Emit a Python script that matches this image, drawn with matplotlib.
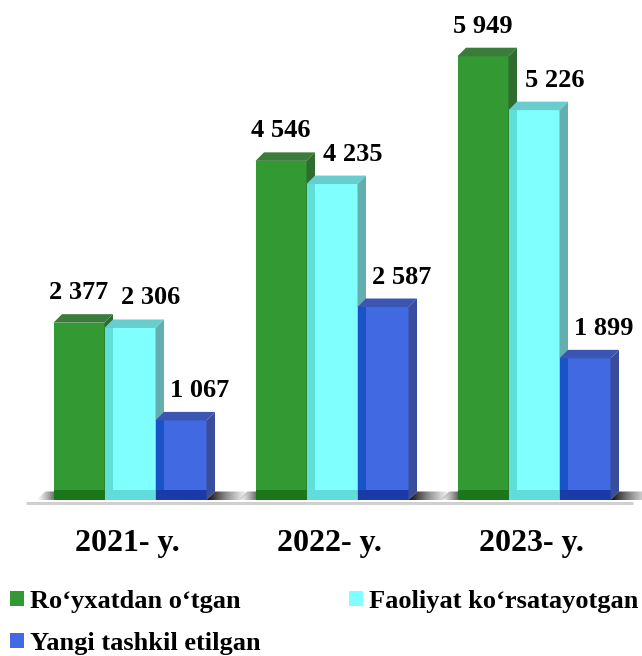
import numpy as np
import matplotlib
matplotlib.use('Agg')
import matplotlib.pyplot as plt
from matplotlib.patches import Polygon, Patch, Rectangle

# ---------------- data ----------------
years = ['2021- y.', '2022- y.', '2023- y.']
registered = [2377, 4546, 5949]
active = [2306, 4235, 5226]
new_created = [1067, 2587, 1899]
series_names = ['Ro‘yxatdan o‘tgan', 'Faoliyat ko‘rsatayotgan', 'Yangi tashkil etilgan']
value_labels = [['2 377', '4 546', '5 949'],
                ['2 306', '4 235', '5 226'],
                ['1 067', '2 587', '1 899']]

# ---------------- style ----------------
front_colors = ['#339933', '#80FFFF', '#4169E1']
top_colors = ['#3B7B3B', '#6ACDCD', '#3B55B2']
side_colors = ['#2F6C2F', '#63AFAF', '#3A4C9C']
strip_colors = [None, '#5EE0D8', '#1A52C8']
base_colors = ['#1A781A', '#60DCDA', '#1A3AA8']
label_dx = [0, 21, 19]      # px
label_dy = 30               # px
DX, DY = 8.5, 8.5           # depth in px
PX_PER_UNIT = 0.0746
W, H = 642, 656
BASE_Y = 500                # baseline, px from top
GROUP_PX = 202
FIRST_CENTER = 130
BAR_PX = 51

serif = ['Liberation Serif', 'DejaVu Serif']

fig = plt.figure(figsize=(W / 100, H / 100), dpi=100)
ax = fig.add_axes([0, 0, 1, 1])
ax.set_xlim(-FIRST_CENTER / GROUP_PX, (W - FIRST_CENTER) / GROUP_PX)
ax.set_ylim(-(H - BASE_Y) / PX_PER_UNIT, BASE_Y / PX_PER_UNIT)
ax.axis('off')

def P(x, y, dxp=0.0, dyp=0.0):
    d = ax.transData.transform((x, y)) + np.array([dxp, dyp])
    return ax.transData.inverted().transform(d)

bw = BAR_PX / GROUP_PX
series = [registered, active, new_created]
xs = np.arange(len(years))

# floor line
fl0 = P(xs[0] - 1.5 * bw, 0, -28, -2.5)
fl1 = P(xs[-1] + 1.5 * bw, 0, 22, -2.5)
ax.plot([fl0[0], fl1[0]], [fl0[1], fl1[1]], color='#D0D0D0', lw=2.2,
        solid_capstyle='butt', zorder=0)

# floor shadows
def shadow(poly_pts, x_start, x_end, reverse=False):
    n = 64
    a = np.linspace(0, 1.0, n) ** 1.3
    if reverse:
        a = a[::-1]
    img = np.zeros((2, n, 4))
    img[..., 3] = a[None, :]
    img[..., :3] = 0.05
    ys = [p[1] for p in poly_pts]
    im = ax.imshow(img, extent=[x_start, x_end, min(ys), max(ys)], aspect='auto',
                   interpolation='bilinear', zorder=0.5)
    poly = Polygon(poly_pts, closed=True, facecolor='none', edgecolor='none',
                   transform=ax.transData)
    ax.add_patch(poly)
    im.set_clip_path(poly)

for j in xs:
    xl = j - 1.5 * bw
    xr = j + 1.5 * bw
    # left
    pts = [P(xl, 0, -18, 0), P(xl, 0, 0, 0), P(xl, 0, DX, DY), P(xl, 0, -8, DY)]
    shadow(pts, P(xl, 0, -18, 0)[0], P(xl, 0, DX, 0)[0])
    # right
    pts = [P(xr, 0, 0, 0), P(xr, 0, 34, 0), P(xr, 0, 44, DY), P(xr, 0, DX, DY)]
    shadow(pts, P(xr, 0, 0, 0)[0], P(xr, 0, 44, 0)[0], reverse=True)

# bars
for j in xs:
    for i, vals in enumerate(series):
        h = vals[j]
        xc = j + (i - 1) * bw
        x0, x1 = xc - bw / 2, xc + bw / 2
        ax.bar(xc, h, width=bw, color=front_colors[i], linewidth=0, zorder=1)
        if strip_colors[i]:
            s1 = P(x0, 0, DX, 0)[0]
            ax.add_patch(Rectangle((x0, 0), s1 - x0, h, facecolor=strip_colors[i],
                                   edgecolor='none', zorder=1))
        bh = P(0, 0, 0, 10)[1]
        ax.add_patch(Rectangle((x0, 0), bw, bh, facecolor=base_colors[i],
                               edgecolor='none', zorder=1))
        side = [P(x1, 0), P(x1, h), P(x1, h, DX, DY), P(x1, 0, DX, DY)]
        ax.add_patch(Polygon(side, closed=True, facecolor=side_colors[i], edgecolor='none', zorder=1))
        top = [P(x0, h), P(x1, h), P(x1, h, DX, DY), P(x0, h, DX, DY)]
        ax.add_patch(Polygon(top, closed=True, facecolor=top_colors[i], edgecolor='none', zorder=1))
        lp = P(xc, h, label_dx[i], label_dy)
        ax.text(lp[0], lp[1], value_labels[i][j], ha='center', va='center',
                fontsize=19, fontweight='bold', family=serif, color='black', zorder=3)

# category labels
for j in xs:
    p = P(j, 0, -3, -51)
    ax.text(p[0], p[1], years[j], ha='center', va='baseline', fontsize=23,
            fontweight='bold', family=serif, color='black')

# legend
handles = [Patch(facecolor=c, edgecolor='none') for c in front_colors]
order = [0, 2, 1]
leg = fig.legend([handles[k] for k in order], [series_names[k] for k in order],
                 ncol=2, loc='upper left', bbox_to_anchor=(10 / W, 1 - 590 / H),
                 frameon=False, borderpad=0, borderaxespad=0,
                 handlelength=0.53, handleheight=0.53, handletextpad=0.23,
                 columnspacing=3.34, labelspacing=0.72,
                 prop={'family': serif, 'weight': 'bold', 'size': 19})

fig.savefig('out.png', dpi=100)
